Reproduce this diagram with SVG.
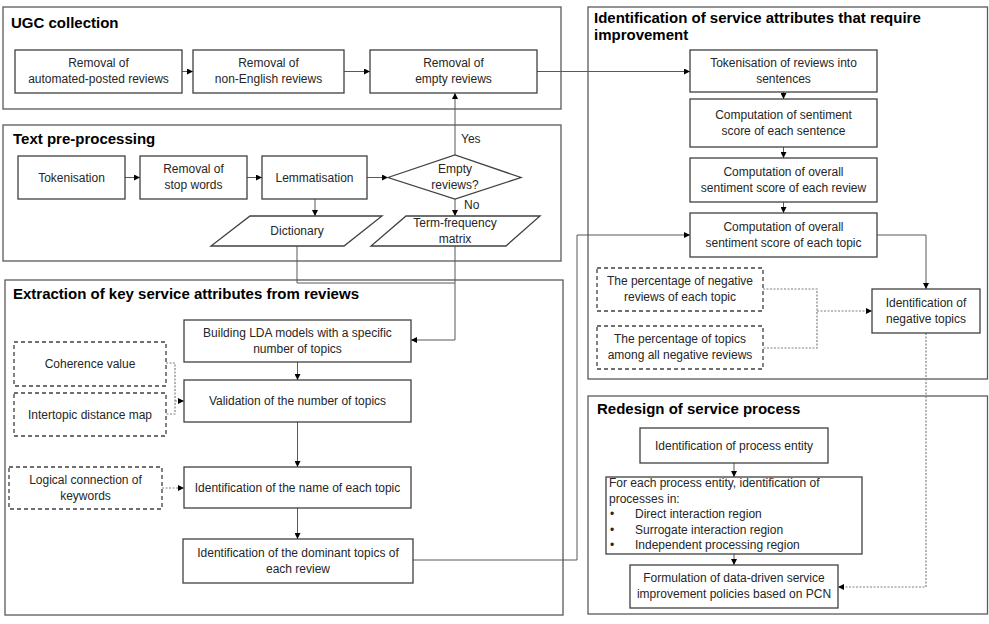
<svg xmlns="http://www.w3.org/2000/svg" width="989" height="624" viewBox="0 0 989 624">
<style>
.bg{fill:#ffffff}
.panel{fill:none;stroke:#5a5a5a;stroke-width:1.3}
.box{fill:#ffffff;stroke:#404040;stroke-width:1.3}
.dbox{fill:#ffffff;stroke:#404040;stroke-width:1.3;stroke-dasharray:4 3}
.t{font-family:"Liberation Sans",Arial,sans-serif;font-size:12px;fill:#262626;text-anchor:middle}
.tl{font-family:"Liberation Sans",Arial,sans-serif;font-size:12px;fill:#262626}
.h{font-family:"Liberation Sans",Arial,sans-serif;font-size:15px;font-weight:bold;fill:#000000}
.c{fill:none;stroke:#595959;stroke-width:1}
.d{fill:none;stroke:#808080;stroke-width:1.2;stroke-dasharray:2 1.5}
</style>
<defs>
<marker id="arr" viewBox="0 0 6 6" refX="6" refY="3" markerWidth="6" markerHeight="6" markerUnits="userSpaceOnUse" orient="auto">
<path d="M0,0 L6,3 L0,6 z" fill="#000000"/>
</marker>
</defs>
<rect class="bg" x="0" y="0" width="989" height="624"/>

<g id="panels">
<g id="panel-ugc"><rect class="panel" x="3" y="7" width="558" height="102"/><text class="h" x="11" y="28">UGC collection</text></g>
<g id="panel-pre"><rect class="panel" x="3" y="125" width="558" height="136"/><text class="h" x="13" y="144">Text pre-processing</text></g>
<g id="panel-ext"><rect class="panel" x="5" y="280" width="558" height="335"/><text class="h" x="13" y="299">Extraction of key service attributes from reviews</text></g>
<g id="panel-ident"><rect class="panel" x="588" y="7" width="399.5" height="372"/><text class="h" x="594" y="23">Identification of service attributes that require</text><text class="h" x="594" y="40">improvement</text></g>
<g id="panel-redesign"><rect class="panel" x="588" y="396" width="399.5" height="218"/><text class="h" x="597" y="414">Redesign of service process</text></g>
</g>

<g id="connectors">
<line class="c" x1="182" y1="71.5" x2="193" y2="71.5" marker-end="url(#arr)"/>
<line class="c" x1="344" y1="71.5" x2="370" y2="71.5" marker-end="url(#arr)"/>
<line class="c" x1="537" y1="71.5" x2="690" y2="71.5" marker-end="url(#arr)"/>
<line class="c" x1="455" y1="155" x2="455" y2="93" marker-end="url(#arr)"/>
<line class="c" x1="125" y1="177.5" x2="140" y2="177.5" marker-end="url(#arr)"/>
<line class="c" x1="247" y1="177.5" x2="262" y2="177.5" marker-end="url(#arr)"/>
<line class="c" x1="367" y1="177.5" x2="388" y2="177.5" marker-end="url(#arr)"/>
<line class="c" x1="315" y1="199" x2="315" y2="216" marker-end="url(#arr)"/>
<line class="c" x1="455" y1="199" x2="455" y2="216" marker-end="url(#arr)"/>
<polyline class="c" points="297,246 297,283 455,283"/>
<polyline class="c" points="455,246 455,340 411,340" marker-end="url(#arr)"/>
<line class="c" x1="297.5" y1="362" x2="297.5" y2="380" marker-end="url(#arr)"/>
<polyline class="d" points="166,363 175,363 175,414 166,414"/>
<line class="d" x1="175" y1="401" x2="184" y2="401" marker-end="url(#arr)"/>
<line class="c" x1="297.5" y1="422" x2="297.5" y2="467" marker-end="url(#arr)"/>
<line class="d" x1="162" y1="488" x2="184" y2="488" marker-end="url(#arr)"/>
<line class="c" x1="297.5" y1="508" x2="297.5" y2="539" marker-end="url(#arr)"/>
<polyline class="c" points="413,560 577,560 577,235 690,235" marker-end="url(#arr)"/>
<line class="c" x1="783.5" y1="92" x2="783.5" y2="99" marker-end="url(#arr)"/>
<line class="c" x1="783.5" y1="147" x2="783.5" y2="158" marker-end="url(#arr)"/>
<line class="c" x1="783.5" y1="202" x2="783.5" y2="213" marker-end="url(#arr)"/>
<polyline class="c" points="877,235 926,235 926,289" marker-end="url(#arr)"/>
<polyline class="d" points="763,289 817,289 817,348 763,348"/>
<line class="d" x1="817" y1="311" x2="872" y2="311" marker-end="url(#arr)"/>
<polyline class="d" points="926,333 926,587 838,587" marker-end="url(#arr)"/>
<line class="c" x1="734" y1="463" x2="734" y2="477" marker-end="url(#arr)"/>
<line class="c" x1="734" y1="554" x2="734" y2="565" marker-end="url(#arr)"/>
<text class="tl" x="461" y="143">Yes</text>
<text class="tl" x="464" y="209">No</text>
</g>

<g id="n-auto"><rect class="box" x="15" y="50" width="167" height="43"/><text class="t" x="98.5" y="67">Removal of</text><text class="t" x="98.5" y="83">automated-posted reviews</text></g>
<g id="n-nonenglish"><rect class="box" x="193" y="50" width="151" height="43"/><text class="t" x="268.5" y="67">Removal of</text><text class="t" x="268.5" y="83">non-English reviews</text></g>
<g id="n-empty"><rect class="box" x="370" y="50" width="167" height="43"/><text class="t" x="453.5" y="67">Removal of</text><text class="t" x="453.5" y="83">empty reviews</text></g>

<g id="n-token"><rect class="box" x="18" y="156" width="107" height="43"/><text class="t" x="71.5" y="181.5">Tokenisation</text></g>
<g id="n-stop"><rect class="box" x="140" y="156" width="107" height="43"/><text class="t" x="193.5" y="173">Removal of</text><text class="t" x="193.5" y="189">stop words</text></g>
<g id="n-lemma"><rect class="box" x="262" y="156" width="105" height="43"/><text class="t" x="314.5" y="181.5">Lemmatisation</text></g>
<g id="n-emptyq"><polygon class="box" points="388,177.5 455,155 521,177.5 455,199"/><text class="t" x="455" y="173">Empty</text><text class="t" x="455" y="189">reviews?</text></g>
<g id="n-dict"><polygon class="box" points="250,216 382,216 344,246 211,246"/><text class="t" x="297" y="235">Dictionary</text></g>
<g id="n-tf"><polygon class="box" points="406,216 540,216 506,246 371,246"/><text class="t" x="455" y="227">Term-frequency</text><text class="t" x="455" y="243">matrix</text></g>

<g id="n-lda"><rect class="box" x="184" y="320" width="227" height="42"/><text class="t" x="297.5" y="336.5">Building LDA models with a specific</text><text class="t" x="297.5" y="352.5">number of topics</text></g>
<g id="n-valid"><rect class="box" x="184" y="380" width="227" height="42"/><text class="t" x="297.5" y="405">Validation of the number of topics</text></g>
<g id="n-coher"><rect class="dbox" x="14" y="342" width="152" height="44"/><text class="t" x="90" y="368">Coherence value</text></g>
<g id="n-inter"><rect class="dbox" x="14" y="393" width="152" height="43"/><text class="t" x="90" y="418.5">Intertopic distance map</text></g>
<g id="n-name"><rect class="box" x="184" y="467" width="227" height="41"/><text class="t" x="297.5" y="491.5">Identification of the name of each topic</text></g>
<g id="n-logic"><rect class="dbox" x="9" y="467" width="153" height="42"/><text class="t" x="85.5" y="483.5">Logical connection of</text><text class="t" x="85.5" y="499.5">keywords</text></g>
<g id="n-dominant"><rect class="box" x="183" y="539" width="230" height="44"/><text class="t" x="298" y="556.5">Identification of the dominant topics of</text><text class="t" x="298" y="572.5">each review</text></g>

<g id="n-sent"><rect class="box" x="690" y="50" width="187" height="42"/><text class="t" x="783.5" y="67">Tokenisation of reviews into</text><text class="t" x="783.5" y="83">sentences</text></g>
<g id="n-sscore"><rect class="box" x="690" y="99" width="187" height="48"/><text class="t" x="783.5" y="118.5">Computation of sentiment</text><text class="t" x="783.5" y="134.5">score of each sentence</text></g>
<g id="n-rscore"><rect class="box" x="690" y="158" width="187" height="44"/><text class="t" x="783.5" y="175.5">Computation of overall</text><text class="t" x="783.5" y="191.5">sentiment score of each review</text></g>
<g id="n-tscore"><rect class="box" x="690" y="213" width="187" height="44"/><text class="t" x="783.5" y="230.5">Computation of overall</text><text class="t" x="783.5" y="246.5">sentiment score of each topic</text></g>
<g id="n-pneg"><rect class="dbox" x="597" y="268" width="166" height="43"/><text class="t" x="680" y="285">The percentage of negative</text><text class="t" x="680" y="301">reviews of each topic</text></g>
<g id="n-ptop"><rect class="dbox" x="597" y="326" width="166" height="43"/><text class="t" x="680" y="343">The percentage of topics</text><text class="t" x="680" y="359">among all negative reviews</text></g>
<g id="n-negtopics"><rect class="box" x="872" y="289" width="108" height="44"/><text class="t" x="926" y="306.5">Identification of</text><text class="t" x="926" y="322.5">negative topics</text></g>

<g id="n-entity"><rect class="box" x="640" y="428" width="188" height="35"/><text class="t" x="734" y="449.5">Identification of process entity</text></g>
<g id="n-foreach"><rect class="box" x="606" y="477" width="256" height="77"/>
<text class="tl" x="609" y="487">For each process entity, identification of</text>
<text class="tl" x="609" y="502.5">processes in:</text>
<text class="tl" x="610" y="518">•</text><text class="tl" x="635" y="518">Direct interaction region</text>
<text class="tl" x="610" y="533.5">•</text><text class="tl" x="635" y="533.5">Surrogate interaction region</text>
<text class="tl" x="610" y="549">•</text><text class="tl" x="635" y="549">Independent processing region</text>
</g>
<g id="n-formul"><rect class="box" x="630" y="565" width="208" height="43"/><text class="t" x="734" y="582">Formulation of data-driven service</text><text class="t" x="734" y="598">improvement policies based on PCN</text></g>
</svg>
